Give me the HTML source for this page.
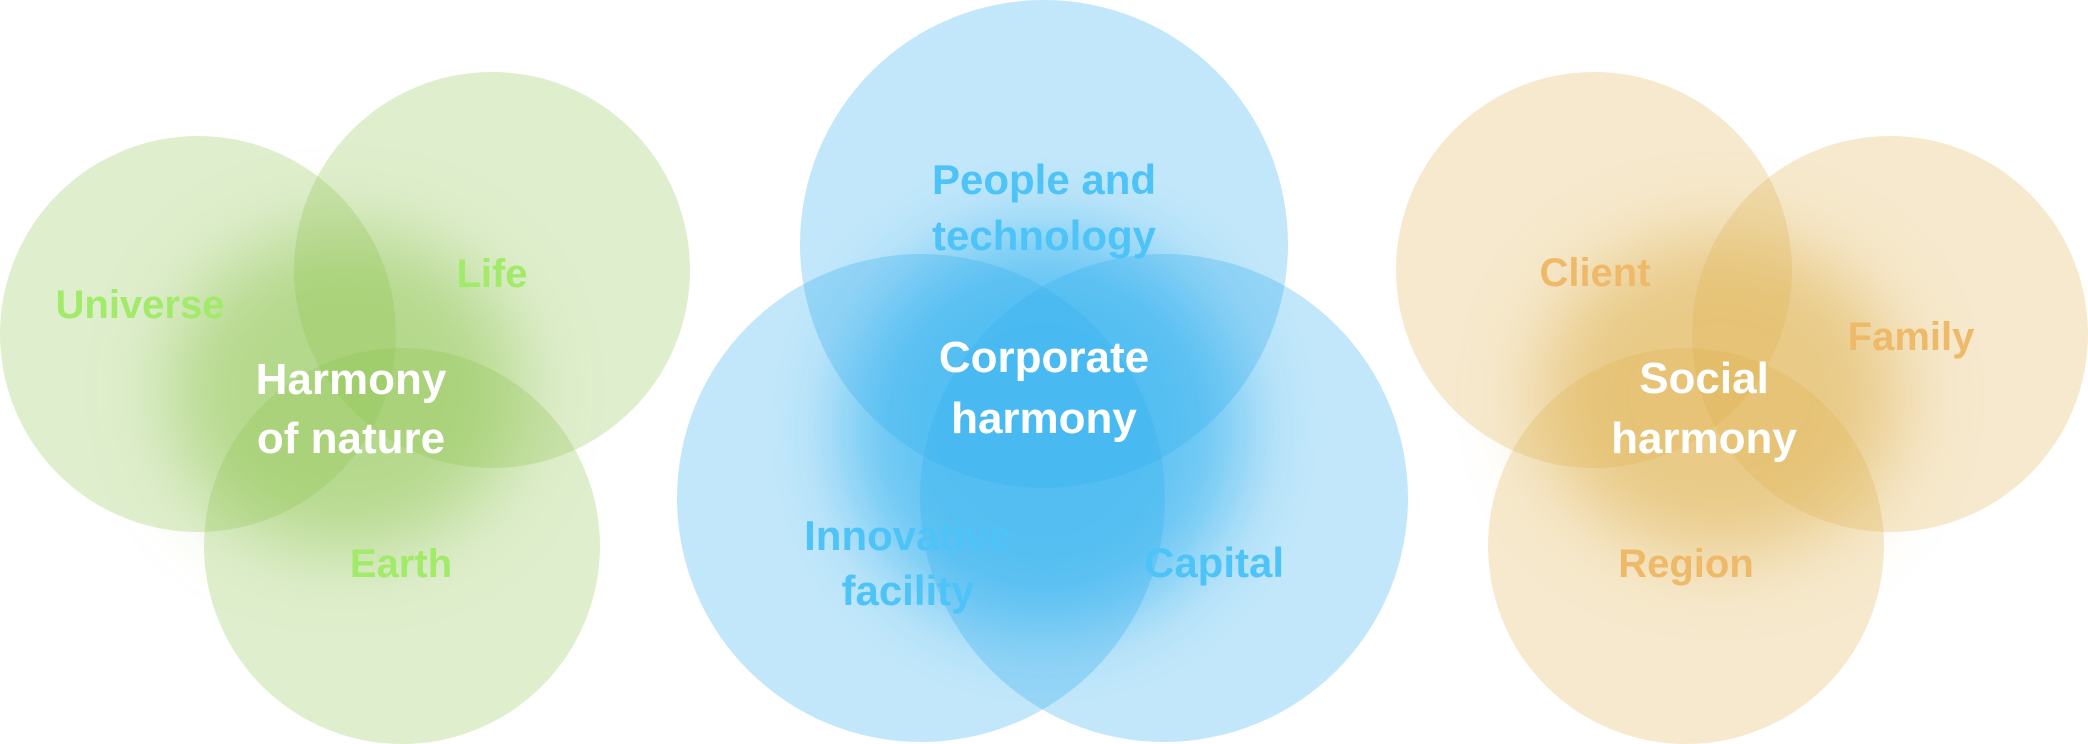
<!DOCTYPE html>
<html><head><meta charset="utf-8"><style>
html,body{margin:0;padding:0;background:#fff;}
svg{display:block;}
text{font-family:"Liberation Sans",sans-serif;font-weight:bold;text-anchor:middle;}
</style></head><body>
<svg width="2088" height="744" viewBox="0 0 2088 744" xmlns="http://www.w3.org/2000/svg">
<defs>
<filter id="b" x="-50%" y="-50%" width="200%" height="200%"><feGaussianBlur stdDeviation="38"/></filter>
</defs>
<!-- green -->
<g>
<circle cx="198" cy="334" r="198" fill="#8bc34a" fill-opacity="0.28"/>
<circle cx="492" cy="270" r="198" fill="#8bc34a" fill-opacity="0.28"/>
<circle cx="402" cy="546" r="198" fill="#8bc34a" fill-opacity="0.28"/>
<ellipse cx="345" cy="390" rx="175" ry="160" fill="#8bc34a" fill-opacity="0.5" filter="url(#b)"/>
<text x="140" y="318" font-size="40" fill="#a2ea6a">Universe</text>
<text x="492" y="287" font-size="40" fill="#a2ea6a">Life</text>
<text x="401" y="577" font-size="40" fill="#a2ea6a">Earth</text>
<text x="351" y="394" font-size="44" fill="#fff">Harmony</text>
<text x="351" y="453" font-size="44" fill="#fff">of nature</text>
</g>
<!-- blue -->
<g>
<circle cx="1044" cy="244" r="244" fill="#29a9ec" fill-opacity="0.28"/>
<circle cx="921" cy="498" r="244" fill="#29a9ec" fill-opacity="0.28"/>
<circle cx="1164" cy="498" r="244" fill="#29a9ec" fill-opacity="0.28"/>
<ellipse cx="1044" cy="430" rx="200" ry="200" fill="#2fb2f0" fill-opacity="0.65" filter="url(#b)"/>
<text x="1044" y="194" font-size="42" fill="#4ec3f7">People and</text>
<text x="1044" y="250" font-size="42" fill="#4ec3f7">technology</text>
<text x="908" y="550" font-size="42" fill="#4ec3f7">Innovative</text>
<text x="908" y="605" font-size="42" fill="#4ec3f7">facility</text>
<text x="1214" y="577" font-size="42" fill="#4ec3f7">Capital</text>
<text x="1044" y="372" font-size="44" fill="#fff">Corporate</text>
<text x="1044" y="433" font-size="44" fill="#fff">harmony</text>
</g>
<!-- orange -->
<g>
<circle cx="1594" cy="270" r="198" fill="#deb04c" fill-opacity="0.28"/>
<circle cx="1890" cy="334" r="198" fill="#deb04c" fill-opacity="0.28"/>
<circle cx="1686" cy="546" r="198" fill="#deb04c" fill-opacity="0.28"/>
<ellipse cx="1720" cy="395" rx="180" ry="160" fill="#deb04c" fill-opacity="0.55" filter="url(#b)"/>
<text x="1595" y="286" font-size="40" fill="#efb96a">Client</text>
<text x="1911" y="350" font-size="40" fill="#efb96a">Family</text>
<text x="1686" y="577" font-size="40" fill="#efb96a">Region</text>
<text x="1704" y="393" font-size="44" fill="#fff">Social</text>
<text x="1704" y="453" font-size="44" fill="#fff">harmony</text>
</g>
</svg>
</body></html>
